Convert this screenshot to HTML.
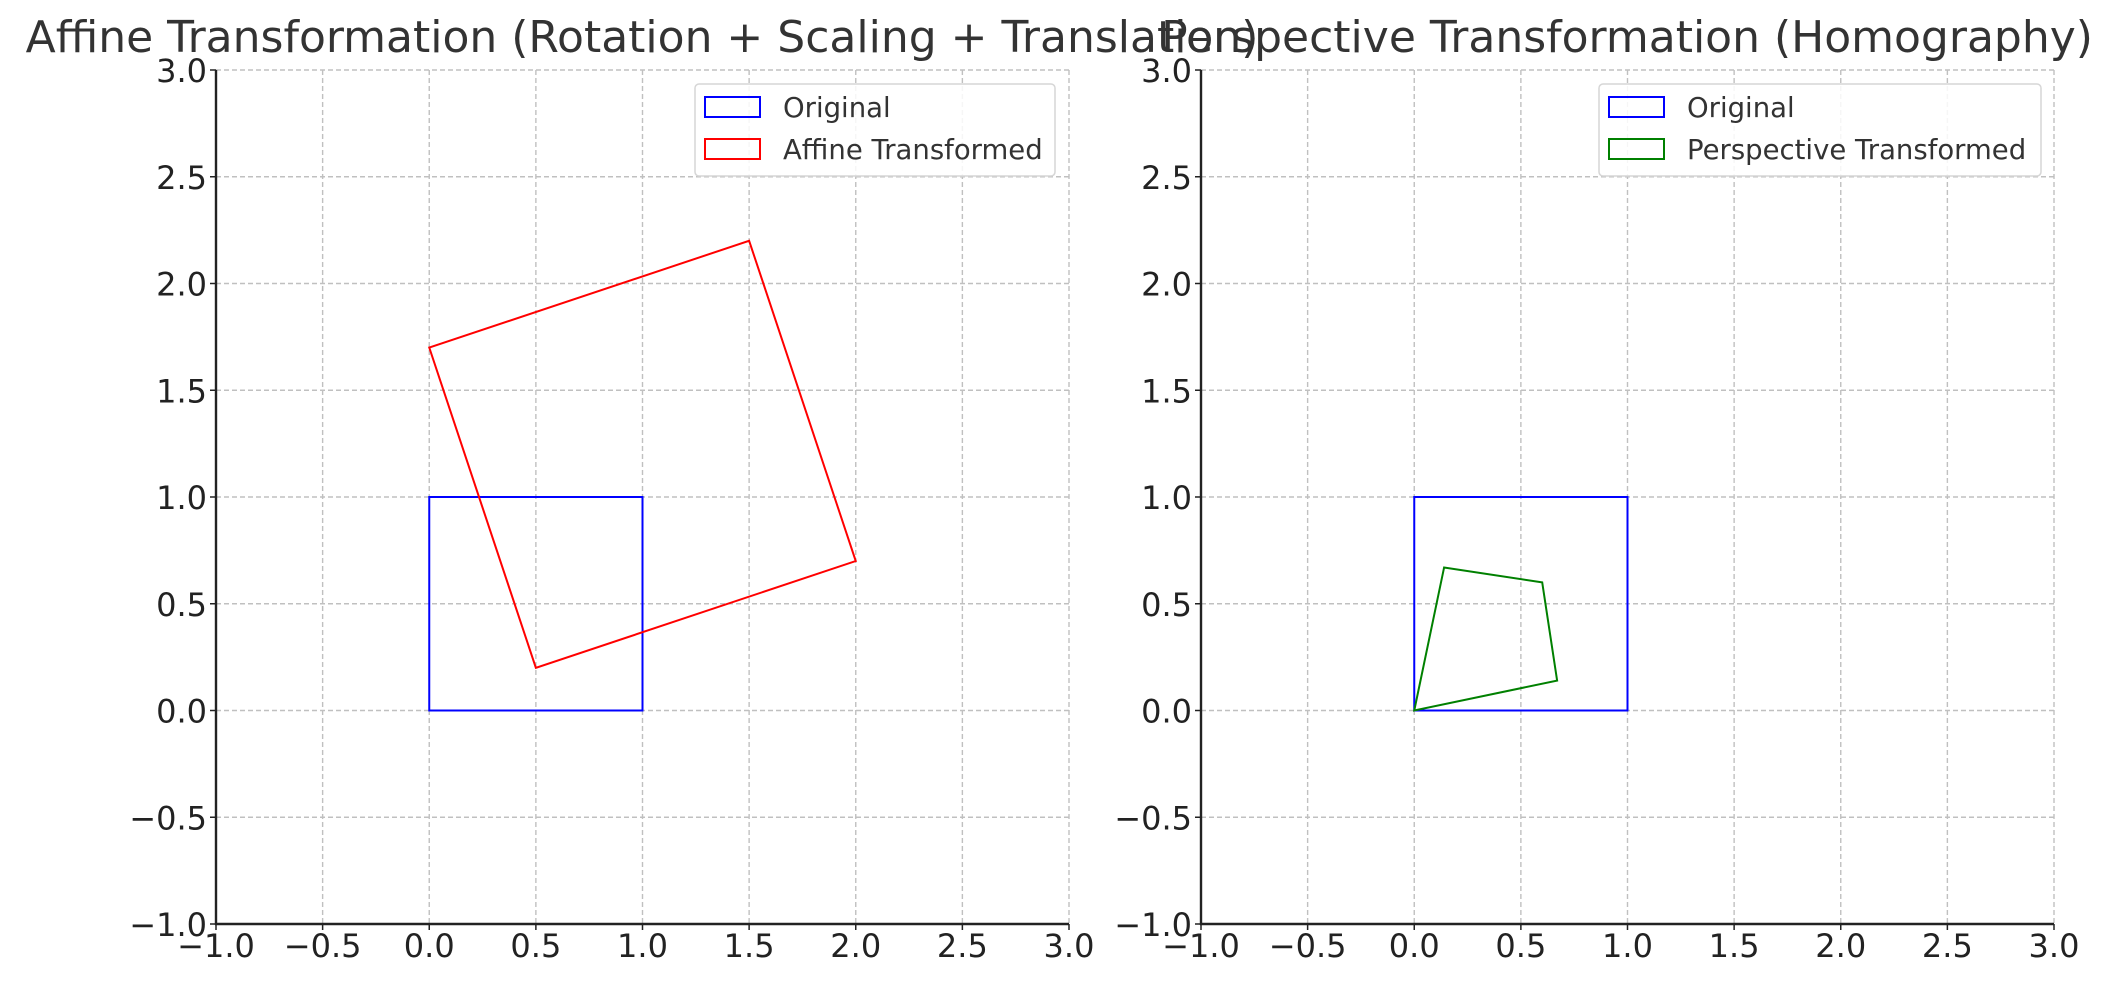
<!DOCTYPE html>
<html><head><meta charset="utf-8"><style>
html,body{margin:0;padding:0;background:#fff;}
svg{display:block;font-family:"DejaVu Sans","Liberation Sans",sans-serif;}
</style></head><body>
<svg id="chart" width="2119" height="986" viewBox="0 0 2119 986" xmlns="http://www.w3.org/2000/svg"></svg>
<script>
const tickValues = [-1.0, -0.5, 0.0, 0.5, 1.0, 1.5, 2.0, 2.5, 3.0];
const tickLabels = ["\u22121.0","\u22120.5","0.0","0.5","1.0","1.5","2.0","2.5","3.0"];
const originalX = [0, 1, 1, 0];
const originalY = [0, 0, 1, 1];
const affineX = [0, 1.5, 2, 0.5];
const affineY = [1.7, 2.2, 0.7, 0.2];
const perspX = [0, 0.14, 0.6, 0.67];
const perspY = [0, 0.67, 0.6, 0.14];

const NS = "http://www.w3.org/2000/svg";
const svg = document.getElementById('chart');
function mk(tag, attrs, parent) {
  const e = document.createElementNS(NS, tag);
  for (const k in attrs) e.setAttribute(k, attrs[k]);
  (parent || svg).appendChild(e);
  return e;
}
function panel(x0, x1, title, titleCx, shapeX, shapeY, color, label, legX, legW, name) {
  const y0 = 70, y1 = 924;
  const sx = v => x0 + (v + 1) / 4 * (x1 - x0);
  const sy = v => y1 - (v + 1) / 4 * (y1 - y0);
  const g = mk('g', {});
  
  
  tickValues.forEach((v, i) => {
    const gx = mk('line', {x1: sx(v), x2: sx(v), y1: y0, y2: y1, stroke: '#c0c0c0', 'stroke-width': 1.4, 'stroke-dasharray': '5,3'}, g);
    
    
    const gy = mk('line', {x1: x0, x2: x1, y1: sy(v), y2: sy(v), stroke: '#c0c0c0', 'stroke-width': 1.4, 'stroke-dasharray': '5,3'}, g);
    
    
    mk('line', {x1: sx(v), x2: sx(v), y1: y1, y2: y1 + 6, stroke: '#222', 'stroke-width': 1.5}, g);
    mk('line', {x1: x0 - 6, x2: x0, y1: sy(v), y2: sy(v), stroke: '#222', 'stroke-width': 1.5}, g);
    const tx = mk('text', {x: sx(v), y: y1 + 33, 'text-anchor': 'middle', 'font-size': 32, fill: '#222'}, g);
    tx.textContent = tickLabels[i];
    
    
    const ty = mk('text', {x: x0 - 9, y: sy(v) + 12, 'text-anchor': 'end', 'font-size': 32, fill: '#222'}, g);
    ty.textContent = tickLabels[i];
    
    
  });
  mk('line', {x1: x0, x2: x0, y1: y0, y2: y1 + 1, stroke: '#222', 'stroke-width': 2.4}, g);
  mk('line', {x1: x0 - 1, x2: x1, y1: y1, y2: y1, stroke: '#222', 'stroke-width': 2.4}, g);
  const orig = mk('polygon', {points: originalX.map((v, i) => sx(v) + ',' + sy(originalY[i])).join(' '), fill: 'none', stroke: 'blue', 'stroke-width': 2}, g);
  
  
  const tr = mk('polygon', {points: shapeX.map((v, i) => sx(v) + ',' + sy(shapeY[i])).join(' '), fill: 'none', stroke: color, 'stroke-width': 2}, g);
  
  
  const t = mk('text', {x: titleCx, y: 52, 'text-anchor': 'middle', 'font-size': 44, fill: '#333'}, g);
  t.textContent = title;
  
  
  const lg = mk('g', {}, g);
  
  
  mk('rect', {x: legX, y: 84, width: legW, height: 92, rx: 4, fill: '#fff', 'fill-opacity': 0.85, stroke: '#d6d6d6', 'stroke-width': 1.5}, lg);
  mk('rect', {x: legX + 10, y: 97, width: 55, height: 20, fill: 'none', stroke: 'blue', 'stroke-width': 2}, lg);
  mk('rect', {x: legX + 10, y: 139, width: 55, height: 20, fill: 'none', stroke: color, 'stroke-width': 2}, lg);
  const l1 = mk('text', {x: legX + 88, y: 117, 'font-size': 27.5, fill: '#333'}, lg);
  l1.textContent = 'Original';
  
  
  const l2 = mk('text', {x: legX + 88, y: 159, 'font-size': 27.5, fill: '#333'}, lg);
  l2.textContent = label;
  
  
}
panel(216, 1069, 'Affine Transformation (Rotation + Scaling + Translation)', 642, affineX, affineY, 'red', 'Affine Transformed', 695, 360, 'affine');
panel(1201, 2054, 'Perspective Transformation (Homography)', 1627, perspX, perspY, 'green', 'Perspective Transformed', 1599, 442, 'perspective');
</script>
</body></html>
